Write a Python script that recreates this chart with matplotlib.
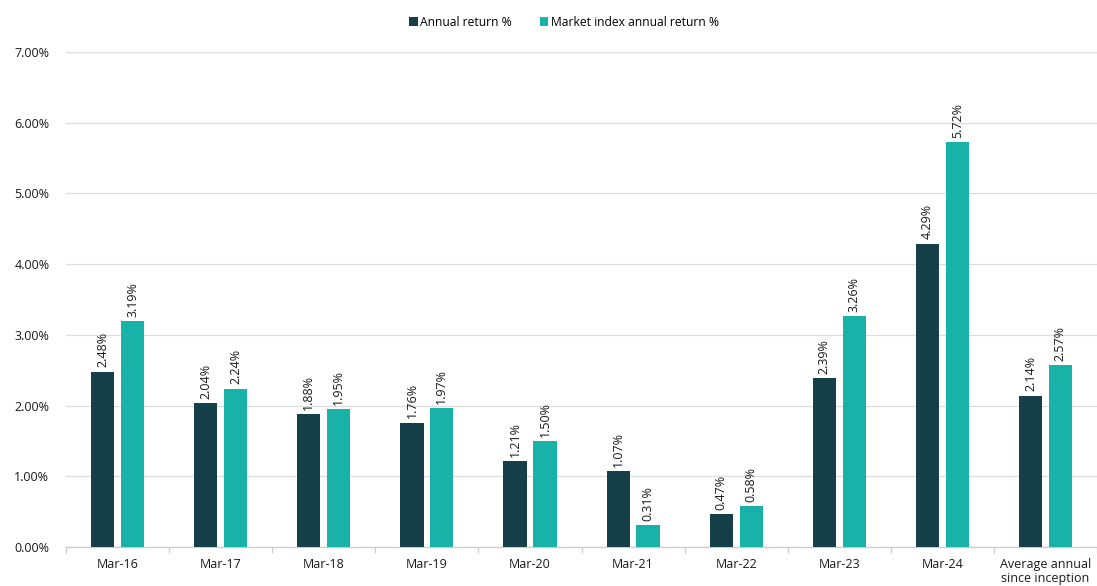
import matplotlib
matplotlib.use("Agg")
import matplotlib.pyplot as plt
import numpy as np

categories = ["Mar-16", "Mar-17", "Mar-18", "Mar-19", "Mar-20", "Mar-21", "Mar-22", "Mar-23", "Mar-24", "Average annual\nsince inception"]
annual = [2.48, 2.04, 1.88, 1.76, 1.21, 1.07, 0.47, 2.39, 4.29, 2.14]
market = [3.19, 2.24, 1.95, 1.97, 1.50, 0.31, 0.58, 3.26, 5.72, 2.57]
yticks = [0, 1, 2, 3, 4, 5, 6, 7]

plt.rcParams['font.family'] = ['Open Sans', 'DejaVu Sans']
dark = "#153f49"
teal = "#19b2a8"
txt = "#1a1a1a"

fig = plt.figure(figsize=(10.97, 5.86), dpi=100)
ax = fig.add_axes([0.0602, 0.0666, 0.9398, 0.8447])
x = np.arange(len(categories))
w = 0.225
off = 0.145
b1 = ax.bar(x - off, annual, w, color=dark, label="Annual return %", zorder=3)
b2 = ax.bar(x + off, market, w, color=teal, label="Market index annual return %", zorder=3)

for bars, vals in ((b1, annual), (b2, market)):
    for r, v in zip(bars, vals):
        ax.annotate(f"{v:.2f}%", (r.get_x() + r.get_width() / 2, v), xytext=(0, 3),
                    textcoords="offset points", rotation=90, ha="center", va="bottom",
                    fontsize=9, color=txt)

ax.set_xlim(-0.5, len(categories) - 0.5)
ax.set_ylim(0, 7)
ax.set_yticks(yticks)
ax.set_yticklabels([f"{t:.2f}%" for t in yticks], fontsize=9, color=txt)
ax.yaxis.grid(True, color="#dddddd", linewidth=0.9, zorder=0)
ax.tick_params(axis="y", length=0, pad=12)
ax.set_xticks(x)
ax.set_xticklabels(categories, fontsize=9, color=txt, linespacing=1.1)
ax.set_xticks(np.arange(len(categories) + 1) - 0.5, minor=True)
ax.tick_params(axis="x", which="major", length=0, pad=8)
ax.tick_params(axis="x", which="minor", length=4, color="#cccccc", width=0.9, direction="out")
for s in ("top", "right", "left"):
    ax.spines[s].set_visible(False)
ax.spines["bottom"].set_color("#cccccc")
ax.spines["bottom"].set_linewidth(0.9)

fig.legend(handles=[b1, b2], loc="center", bbox_to_anchor=(0.514, 0.962), ncol=2, frameon=False,
           fontsize=8.7, handlelength=0.7, handleheight=0.7, handletextpad=0.2, columnspacing=2.3)

fig.savefig("out.png", dpi=100)
